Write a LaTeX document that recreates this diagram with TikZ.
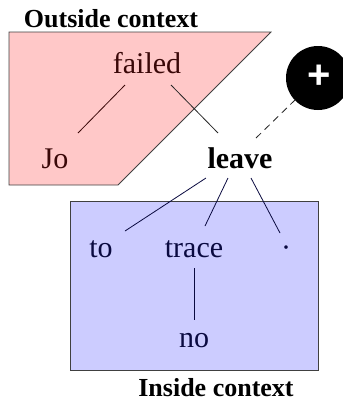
\documentclass[tikz,border=0pt]{standalone}
\usepackage{fontspec}
\setmainfont{Liberation Serif}
\newfontfamily\plusfont{Liberation Sans}
\begin{document}
\begin{tikzpicture}[x=1pt,y=-1pt]
  \definecolor{outfill}{HTML}{FFC8C8}
  \definecolor{infill}{HTML}{CCCCFF}
  \definecolor{outtext}{HTML}{3A0808}
  \definecolor{intext}{HTML}{0A0A40}
  \tikzset{
    word/.style={font=\fontsize{30}{30}\selectfont, inner sep=1pt, anchor=base},
    title/.style={font=\fontsize{26}{26}\selectfont\bfseries, inner sep=0pt, anchor=base},
    edge/.style={line width=0.8pt},
  }
  \useasboundingbox (0,0) rectangle (343,402);
  % context regions
  \draw[fill=outfill, draw=black!75, line width=0.8pt]
    (9,32) -- (271,32) -- (118,185) -- (9,185) -- cycle;
  \draw[fill=infill, draw=black!75, line width=0.8pt]
    (70,201) rectangle (318,370);
  % region titles
  \node[title] (outctx) at (111,27) {Outside context};
  \node[title] (inctx) at (216,396) {Inside context};
  % words
  \node[word, text=outtext] (failed) at (147,73) {failed};
  \node[word, text=outtext] (jo) at (55,168) {Jo};
  \node[word, font=\fontsize{30}{30}\selectfont\bfseries] (leave) at (240,168) {leave};
  \node[word, text=intext] (to) at (101,257) {to};
  \node[word, text=intext] (trace) at (194,257) {trace};
  \node[word, text=intext] (dot) at (286,257) {·};
  \node[word, text=intext] (no) at (194,347) {no};
  % marker
  \node[circle, fill=black, minimum size=64pt, inner sep=0pt] (plus) at (318,78) {};
  \node[text=white, font=\plusfont\bfseries\fontsize{40}{40}\selectfont, inner sep=0pt] (plussign) at (319,77) {+};
  % dependencies
  \coordinate (failedL) at (125,85);
  \coordinate (failedR) at (171,85);
  \coordinate (joT) at (78,133);
  \coordinate (leaveTL) at (218,133);
  \coordinate (leaveTR) at (256,138);
  \coordinate (plusE) at (295,100);
  \coordinate (leaveB1) at (206,178);
  \coordinate (leaveB2) at (228,178);
  \coordinate (leaveB3) at (251,178);
  \coordinate (toT) at (125,231);
  \coordinate (traceT) at (205,226);
  \coordinate (dotT) at (280,233);
  \coordinate (traceB) at (194,268);
  \coordinate (noT) at (194,320);
  \draw[edge, outtext] (failedL) -- (joT);
  \draw[edge, black!85] (failedR) -- (leaveTL);
  \draw[edge, black!85, dashed, dash pattern=on 7pt off 5pt] (leaveTR) -- (plusE);
  \draw[edge, intext] (leaveB1) -- (toT);
  \draw[edge, intext] (leaveB2) -- (traceT);
  \draw[edge, intext] (leaveB3) -- (dotT);
  \draw[edge, intext] (traceB) -- (noT);
\end{tikzpicture}
\end{document}
